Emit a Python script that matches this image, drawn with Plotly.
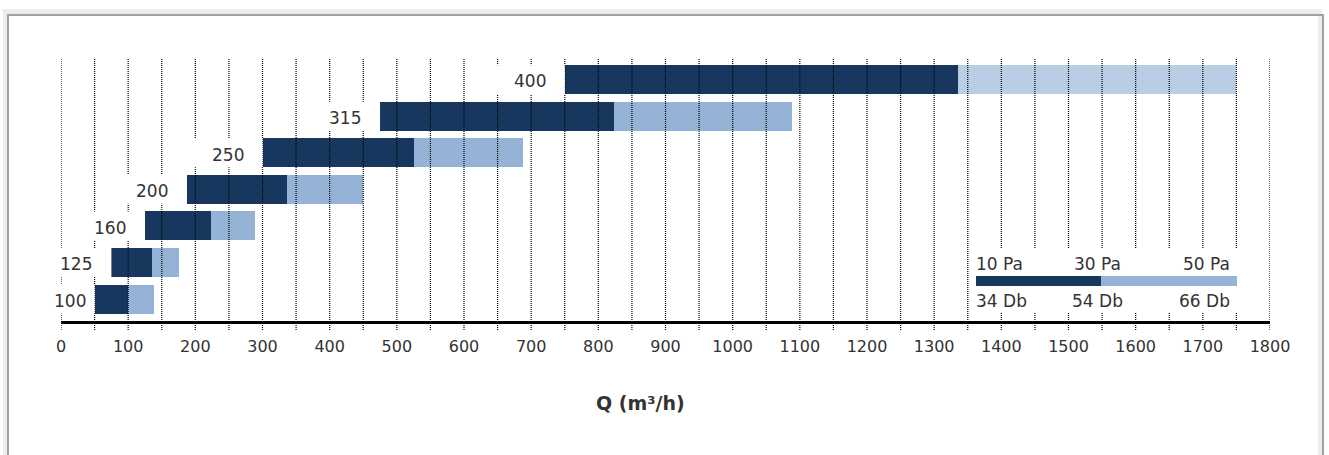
import plotly.graph_objects as go

# ---------------- data ----------------
sizes = ["100", "125", "160", "200", "250", "315", "400"]
q_10pa = [50, 75, 125, 187, 300, 475, 750]      # bar start (10 Pa)
q_30pa = [100, 136, 224, 337, 525, 824, 1336]   # dark / light split (30 Pa)
q_50pa = [138, 176, 289, 450, 688, 1089, 1750]  # bar end (50 Pa)
x_ticks = list(range(0, 1801, 100))
grid_vals = list(range(0, 1801, 50))
legend_top = ["10 Pa", "30 Pa", "50 Pa"]
legend_bottom = ["34 Db", "54 Db", "66 Db"]
axis_title = "Q (m³/h)"

# ---------------- styles / layout ----------------
W, H = 1329, 455
ML, MR, MT, MB = 61, 59, 58, 134
PW = W - ML - MR
PH = H - MT - MB
FONT = "DejaVu Sans"
TXT = "#333333"
DARK = "#17375e"
LIGHT = ["#95b3d7"] * 6 + ["#b9cde5"]
BAR_W = 0.79


def px(x):
    return (x - ML) / PW


def py(y):
    return (H - MB - y) / PH


rows = list(range(len(sizes)))

fig = go.Figure()
fig.add_trace(go.Bar(
    y=rows, x=[m - s for s, m in zip(q_10pa, q_30pa)], base=q_10pa,
    orientation="h", width=BAR_W, marker=dict(color=DARK, line=dict(width=0)),
    hoverinfo="skip", showlegend=False))
fig.add_trace(go.Bar(
    y=rows, x=[e - m for m, e in zip(q_30pa, q_50pa)], base=q_30pa,
    orientation="h", width=BAR_W, marker=dict(color=LIGHT, line=dict(width=0)),
    hoverinfo="skip", showlegend=False))

shapes = []
# frame (below everything)
shapes.append(dict(type="rect", xref="paper", yref="paper", x0=px(3), x1=px(1322),
                   y0=py(9), y1=py(470), fillcolor="#ededed", line=dict(width=0), layer="below"))
shapes.append(dict(type="rect", xref="paper", yref="paper", x0=px(9), x1=px(1318),
                   y0=py(16), y1=py(470), fillcolor="white", line=dict(width=0), layer="below"))
for (x0, x1, y0, y1) in [(8, 8, 14, 470), (7, 1324, 15, 15), (1323, 1323, 14, 470)]:
    shapes.append(dict(type="line", xref="paper", yref="paper", x0=px(x0), x1=px(x1),
                       y0=py(y0), y1=py(y1), line=dict(color="#a0a0a0", width=2), layer="below"))

# dotted vertical gridlines drawn above the bars
for v in grid_vals:
    shapes.append(dict(type="line", xref="x", yref="paper", x0=v, x1=v, y0=py(330), y1=1,
                       line=dict(color="#000000", width=1.2, dash="1px,1px"), layer="above"))

# white boxes behind the size labels
for i, s in enumerate(q_10pa):
    shapes.append(dict(type="rect", xref="x", yref="y", x0=s - 112, x1=s,
                       y0=i - BAR_W / 2, y1=i + BAR_W / 2, fillcolor="white",
                       line=dict(width=0), layer="above"))

# legend box
shapes.append(dict(type="rect", xref="paper", yref="paper", x0=px(971), x1=px(1240),
                   y0=py(312), y1=py(248), fillcolor="white", line=dict(width=0), layer="above"))
shapes.append(dict(type="rect", xref="paper", yref="paper", x0=px(976), x1=px(1101),
                   y0=py(286), y1=py(276), fillcolor=DARK, line=dict(width=0), layer="above"))
shapes.append(dict(type="rect", xref="paper", yref="paper", x0=px(1101), x1=px(1237),
                   y0=py(286), y1=py(276), fillcolor=LIGHT[0], line=dict(width=0), layer="above"))

annotations = []
for i, (lab, s) in enumerate(zip(sizes, q_10pa)):
    annotations.append(dict(x=max(s - 52, 14), y=i - 0.05, xref="x", yref="y", text=lab,
                            showarrow=False, xanchor="center", yanchor="middle",
                            font=dict(family=FONT, size=17, color=TXT)))

leg_x = [(974, "left"), (1097, "center"), (1232, "right")]
for (lx, anc), t, b in zip(leg_x, legend_top, legend_bottom):
    annotations.append(dict(x=px(lx), y=py(263.5), xref="paper", yref="paper", text=t,
                            showarrow=False, xanchor=anc, yanchor="middle",
                            font=dict(family=FONT, size=17, color=TXT)))
    annotations.append(dict(x=px(lx), y=py(301), xref="paper", yref="paper", text=b,
                            showarrow=False, xanchor=anc, yanchor="middle",
                            font=dict(family=FONT, size=17, color=TXT)))

annotations.append(dict(x=px(640), y=py(403), xref="paper", yref="paper",
                        text="<b>" + axis_title + "</b>", showarrow=False,
                        xanchor="center", yanchor="middle",
                        font=dict(family=FONT, size=19, color=TXT)))

fig.update_layout(
    width=W, height=H,
    margin=dict(l=ML, r=MR, t=MT, b=MB, pad=0),
    paper_bgcolor="white", plot_bgcolor="rgba(0,0,0,0)",
    barmode="overlay", bargap=0,
    shapes=shapes, annotations=annotations,
    showlegend=False,
    xaxis=dict(range=[0, 1800], tickvals=x_ticks, ticktext=[str(t) for t in x_ticks],
               showgrid=False, zeroline=False, showline=True, linecolor="black",
               linewidth=3, ticks="outside", ticklen=9, tickcolor="rgba(0,0,0,0)",
               tickfont=dict(family=FONT, size=16, color=TXT), fixedrange=True),
    yaxis=dict(range=[-0.6, 6.59], showgrid=False, zeroline=False, showline=False,
               showticklabels=False, ticks="", fixedrange=True),
)

fig.write_html("out.html", config={"displayModeBar": False},
               post_script="document.body.style.margin='0px';document.body.style.overflow='hidden';")
